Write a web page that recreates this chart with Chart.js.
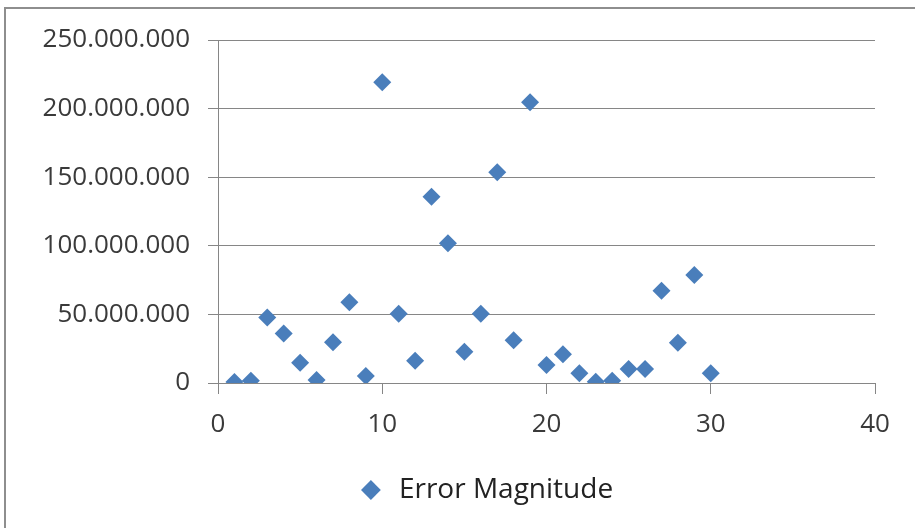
<!DOCTYPE html>
<html>
<head>
<meta charset="utf-8">
<script src="https://cdn.jsdelivr.net/npm/chart.js@4"></script>
<style>
  html, body { margin: 0; padding: 0; background: #ffffff; overflow: hidden; }
  #wrap { position: relative; width: 915px; height: 528px; }
  #frame { position: absolute; left: 4px; top: 7px; width: 940px; height: 560px;
           border-left: 2px solid #8e8e8e; border-top: 2px solid #8e8e8e; pointer-events: none; }
  canvas { position: absolute; left: 0; top: 0; }
</style>
</head>
<body>
<div id="wrap">
  <canvas id="c" width="915" height="528"></canvas>
  <div id="frame"></div>
</div>
<script>
// ---- data ----
const seriesName = 'Error Magnitude';
const xValues = [1, 2, 3, 4, 5, 6, 7, 8, 9, 10,
                 11, 12, 13, 14, 15, 16, 17, 18, 19, 20,
                 21, 22, 23, 24, 25, 26, 27, 28, 29, 30];
const yValues = [800000, 1700000, 47700000, 36000000, 14800000, 2200000, 29700000, 58900000, 5100000, 219200000,
                 50400000, 16300000, 135800000, 101800000, 22800000, 50400000, 153600000, 31200000, 204600000, 13100000,
                 21000000, 7100000, 900000, 1700000, 10200000, 10200000, 67200000, 29400000, 78800000, 7100000];
const xTicks = [0, 10, 20, 30, 40];
const yTicks = [0, 50000000, 100000000, 150000000, 200000000, 250000000];

const points = xValues.map((x, i) => ({ x: x, y: yValues[i] }));

function fmtDots(v) {
  return String(Math.round(v)).replace(/\B(?=(\d{3})+(?!\d))/g, '.');
}

const gridColor = '#868686';
const textColor = '#3a3a3a';

// shift the legend box so that it sits where the reference puts it
const legendShift = {
  id: 'legendShift',
  afterLayout(chart) {
    if (chart.legend) { chart.legend.left = 95; }
  }
};

new Chart(document.getElementById('c'), {
  type: 'scatter',
  data: {
    datasets: [{
      label: seriesName,
      data: points,
      pointStyle: 'rectRot',
      pointRadius: 9,
      pointHoverRadius: 9,
      backgroundColor: '#4a7ebb',
      borderColor: '#4a7ebb',
      borderWidth: 0,
      pointBorderWidth: 0
    }]
  },
  plugins: [legendShift],
  options: {
    responsive: false,
    animation: false,
    events: [],
    layout: { padding: { top: 40, right: 40, bottom: 14, left: 0 } },
    plugins: {
      tooltip: { enabled: false },
      legend: {
        position: 'bottom',
        labels: {
          usePointStyle: true,
          pointStyle: 'rectRot',
          boxWidth: 28,
          boxHeight: 14,
          padding: 10,
          color: '#222222',
          font: { family: 'Open Sans', size: 28 }
        }
      }
    },
    scales: {
      x: {
        type: 'linear',
        min: xTicks[0],
        max: xTicks[xTicks.length - 1],
        afterBuildTicks: (s) => { s.ticks = xTicks.map(v => ({ value: v })); },
        afterFit: (s) => { s.height = 83; },
        grid: { drawOnChartArea: false, drawTicks: true, tickLength: 11, color: gridColor, lineWidth: 1 },
        border: { display: true, color: gridColor, width: 1 },
        ticks: { padding: 15, color: textColor, font: { family: 'Open Sans', size: 26 }, maxRotation: 0 }
      },
      y: {
        type: 'linear',
        min: yTicks[0],
        max: yTicks[yTicks.length - 1],
        afterBuildTicks: (s) => { s.ticks = yTicks.map(v => ({ value: v })); },
        afterFit: (s) => { s.width = 218; },
        grid: { drawOnChartArea: true, drawTicks: true, tickLength: 10, color: gridColor, lineWidth: 1 },
        border: { display: true, color: gridColor, width: 1 },
        ticks: { padding: 18, color: textColor, font: { family: 'Open Sans', size: 26 },
                 callback: (v) => fmtDots(v) }
      }
    }
  }
});
</script>
</body>
</html>
